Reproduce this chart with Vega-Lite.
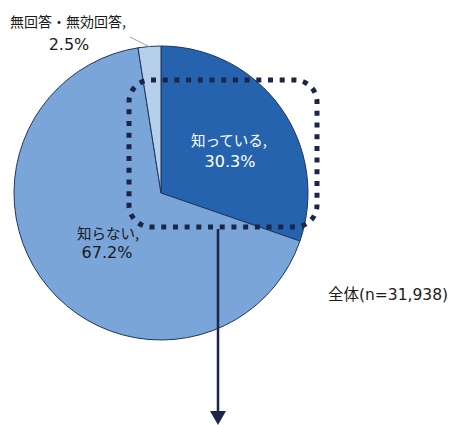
{
  "$schema": "https://vega.github.io/schema/vega-lite/v6.json",
  "width": 462,
  "height": 425,
  "autosize": "none",
  "padding": 0,
  "background": "white",
  "config": {"view": {"stroke": null}, "font": "Noto Sans CJK JP"},
  "data": {"values": [
    {"category": "知っている", "value": 30.3, "order": 1},
    {"category": "知らない", "value": 67.2, "order": 2},
    {"category": "無回答・無効回答", "value": 2.5, "order": 3}
  ]},
  "layer": [
    {
      "mark": {"type": "arc", "outerRadius": 147, "stroke": "#1f3560", "strokeWidth": 1},
      "encoding": {
        "x": {"datum": 161, "type": "quantitative", "scale": {"domain": [0, 462], "nice": false, "zero": false}, "axis": null},
        "y": {"datum": 193, "type": "quantitative", "scale": {"domain": [0, 425], "nice": false, "zero": false, "reverse": true}, "axis": null},
        "theta": {"field": "value", "type": "quantitative", "stack": true},
        "order": {"field": "order", "type": "quantitative"},
        "color": {"field": "category", "type": "nominal", "legend": null,
          "scale": {"domain": ["知っている", "知らない", "無回答・無効回答"], "range": ["#2563ae", "#7aa5d8", "#b6cfea"]}}
      }
    },
    {
      "data": {"values": [{}]},
      "mark": {"type": "rect", "fill": null, "fillOpacity": 0, "stroke": "#1c2448", "strokeWidth": 5, "strokeDash": [5, 6.7], "cornerRadius": 22},
      "encoding": {
        "x": {"datum": 129, "type": "quantitative"},
        "x2": {"datum": 317},
        "y": {"datum": 80, "type": "quantitative"},
        "y2": {"datum": 227}
      }
    },
    {
      "data": {"values": [{}]},
      "mark": {"type": "rule", "stroke": "#1c2448", "strokeWidth": 2.5},
      "encoding": {
        "x": {"datum": 218, "type": "quantitative"},
        "y": {"datum": 229, "type": "quantitative"},
        "y2": {"datum": 414}
      }
    },
    {
      "data": {"values": [{}]},
      "mark": {"type": "point", "shape": "triangle-down", "size": 256, "filled": true, "fill": "#1c2448", "stroke": null, "opacity": 1},
      "encoding": {
        "x": {"datum": 218, "type": "quantitative"},
        "y": {"datum": 418, "type": "quantitative"}
      }
    },
    {
      "data": {"values": [{}]},
      "mark": {"type": "rule", "stroke": "#a0a0a0", "strokeWidth": 1},
      "encoding": {
        "x": {"datum": 130, "type": "quantitative"},
        "y": {"datum": 37, "type": "quantitative"},
        "x2": {"datum": 150},
        "y2": {"datum": 47}
      }
    },
    {
      "data": {"values": [{}]},
      "mark": {"type": "text", "text": "知っている,", "align": "center", "baseline": "middle", "fontSize": 14.5, "fill": "white"},
      "encoding": {"x": {"datum": 229, "type": "quantitative"}, "y": {"datum": 142, "type": "quantitative"}}
    },
    {
      "data": {"values": [{}]},
      "mark": {"type": "text", "text": "30.3%", "font": "DejaVu Sans", "align": "center", "baseline": "middle", "fontSize": 16, "fill": "white"},
      "encoding": {"x": {"datum": 230, "type": "quantitative"}, "y": {"datum": 162, "type": "quantitative"}}
    },
    {
      "data": {"values": [{}]},
      "mark": {"type": "text", "text": "知らない,", "align": "center", "baseline": "middle", "fontSize": 14.5, "fill": "#1a1a1a"},
      "encoding": {"x": {"datum": 108, "type": "quantitative"}, "y": {"datum": 235, "type": "quantitative"}}
    },
    {
      "data": {"values": [{}]},
      "mark": {"type": "text", "text": "67.2%", "font": "DejaVu Sans", "align": "center", "baseline": "middle", "fontSize": 16, "fill": "#1a1a1a"},
      "encoding": {"x": {"datum": 107, "type": "quantitative"}, "y": {"datum": 253, "type": "quantitative"}}
    },
    {
      "data": {"values": [{}]},
      "mark": {"type": "text", "text": "無回答・無効回答,", "align": "center", "baseline": "middle", "fontSize": 14, "fill": "#1a1a1a"},
      "encoding": {"x": {"datum": 68, "type": "quantitative"}, "y": {"datum": 23, "type": "quantitative"}}
    },
    {
      "data": {"values": [{}]},
      "mark": {"type": "text", "text": "2.5%", "font": "DejaVu Sans", "align": "center", "baseline": "middle", "fontSize": 16, "fill": "#1a1a1a"},
      "encoding": {"x": {"datum": 69, "type": "quantitative"}, "y": {"datum": 45, "type": "quantitative"}}
    },
    {
      "data": {"values": [{}]},
      "mark": {"type": "text", "text": "全体(n=31,938)", "font": "DejaVu Sans, Noto Sans CJK JP", "align": "left", "baseline": "middle", "fontSize": 15.5, "fill": "#1a1a1a"},
      "encoding": {"x": {"datum": 328, "type": "quantitative"}, "y": {"datum": 295, "type": "quantitative"}}
    }
  ]
}
